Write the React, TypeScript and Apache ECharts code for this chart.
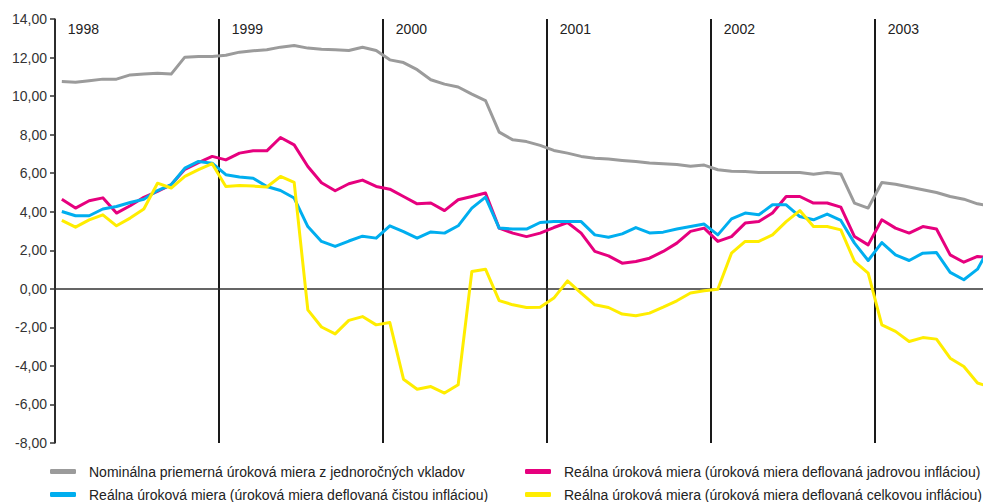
import React, { useEffect, useRef } from "react";
import * as echarts from "echarts";

const years = ["1998", "1999", "2000", "2001", "2002", "2003"];
const monthsInLastYear = 9;
const categories: string[] = [];
years.forEach((y, yi) => {
  const n = yi === years.length - 1 ? monthsInLastYear : 12;
  for (let m = 1; m <= n; m++) categories.push(`${y}-${String(m).padStart(2, "0")}`);
});

const yTicks = { min: -8, max: 14, step: 2 };

const nameNominal = "Nominálna priemerná úroková miera z jednoročných vkladov";
const nameCore = "Reálna úroková miera (úroková miera deflovaná jadrovou infláciou)";
const nameNet = "Reálna úroková miera (úroková miera deflovaná čistou infláciou)";
const nameHeadline = "Reálna úroková miera (úroková miera deflovaná celkovou infláciou)";

const nominal = [
  10.76, 10.72, 10.8, 10.88, 10.88, 11.1, 11.14, 11.18, 11.14, 12.02, 12.05, 12.05,
  12.12, 12.28, 12.35, 12.4, 12.54, 12.62, 12.49, 12.43, 12.4, 12.37, 12.53, 12.37,
  11.88, 11.74, 11.37, 10.85, 10.62, 10.47, 10.1, 9.77, 8.13, 7.73, 7.64, 7.44,
  7.18, 7.04, 6.87, 6.78, 6.73, 6.66, 6.6, 6.53, 6.49, 6.45, 6.36, 6.42,
  6.18, 6.1, 6.09, 6.04, 6.04, 6.04, 6.04, 5.95, 6.04, 5.96, 4.45, 4.19,
  5.52, 5.43, 5.28, 5.14, 5.0, 4.79, 4.65, 4.41, 4.28,
];

const realCore = [
  4.65, 4.19, 4.57, 4.72, 3.93, 4.31, 4.75, 5.05, 5.4, 6.2, 6.55, 6.87,
  6.69, 7.04, 7.16, 7.16, 7.85, 7.47, 6.35, 5.5, 5.09, 5.45, 5.64, 5.31,
  5.17, 4.79, 4.41, 4.45, 4.06, 4.62, 4.79, 4.97, 3.15, 2.89, 2.71, 2.89,
  3.18, 3.44, 2.89, 1.94, 1.71, 1.33, 1.42, 1.59, 1.94, 2.37, 2.98, 3.15,
  2.46, 2.71, 3.41, 3.49, 3.93, 4.79, 4.79, 4.45, 4.45, 4.24, 2.71, 2.28,
  3.58, 3.15, 2.89, 3.23, 3.1, 1.76, 1.38, 1.68, 1.6,
];

const realNet = [
  4.01, 3.79, 3.79, 4.14, 4.27, 4.48, 4.65, 5.1, 5.4, 6.26, 6.61, 6.52,
  5.92, 5.8, 5.74, 5.31, 5.1, 4.71, 3.23, 2.46, 2.2, 2.48, 2.73, 2.63,
  3.27, 2.97, 2.63, 2.95, 2.89, 3.27, 4.19, 4.76, 3.15, 3.1, 3.1, 3.44,
  3.49, 3.49, 3.49, 2.8, 2.68, 2.85, 3.18, 2.9, 2.94, 3.1, 3.23, 3.36,
  2.8, 3.63, 3.93, 3.84, 4.36, 4.36, 3.75, 3.58, 3.88, 3.55, 2.37, 1.47,
  2.4, 1.76, 1.47, 1.85, 1.88, 0.85, 0.47, 1.02, 2.3,
];

const realHeadline = [
  3.55, 3.2, 3.58, 3.84, 3.27, 3.67, 4.14, 5.48, 5.23, 5.83, 6.18, 6.49,
  5.31, 5.36, 5.33, 5.28, 5.83, 5.52, -1.09, -1.98, -2.34, -1.64, -1.44, -1.87,
  -1.75, -4.69, -5.21, -5.07, -5.41, -4.98, 0.9, 1.02, -0.61, -0.83, -0.97, -0.95,
  -0.48, 0.41, -0.22, -0.83, -0.97, -1.31, -1.4, -1.26, -0.95, -0.62, -0.22, -0.1,
  -0.02, 1.85, 2.46, 2.46, 2.8, 3.49, 4.06, 3.23, 3.23, 3.06, 1.42, 0.81,
  -1.87, -2.21, -2.73, -2.53, -2.61, -3.6, -4.03, -4.89, -5.1,
];

const colors = {
  nominal: "#9b9b9b",
  core: "#e6007e",
  net: "#00aeef",
  headline: "#ffed00",
};

export default function App() {
  const ref = useRef<HTMLDivElement>(null);
  useEffect(() => {
    const chart = echarts.init(ref.current!, undefined, { renderer: "svg" });
    const font = "'Liberation Sans', Arial, Helvetica, sans-serif";
    const line = (name: string, data: number[], color: string) => ({
      name,
      type: "line",
      data,
      color,
      symbol: "none",
      xAxisIndex: 0,
      lineStyle: { color, width: 3, join: "round" },
      z: 3,
    });
    const legendBase = {
      top: 464,
      height: 40,
      width: 470,
      orient: "vertical",
      itemWidth: 26,
      itemHeight: 5,
      itemGap: 8,
      padding: 0,
      icon: "roundRect",
      selectedMode: false,
      textStyle: { fontSize: 14, color: "#222", padding: [0, 0, 0, 8], lineHeight: 15, fontFamily: font },
    };
    chart.setOption({
      animation: false,
      backgroundColor: "#ffffff",
      textStyle: { fontFamily: font },
      grid: { left: 55, top: 19, right: 12, bottom: 59, containLabel: false },
      xAxis: [
        {
          type: "category",
          data: categories,
          boundaryGap: true,
          axisLine: { onZero: true, lineStyle: { color: "#333", width: 1.5 } },
          axisTick: { show: false },
          axisLabel: { show: false },
          splitLine: {
            show: true,
            interval: (i: number) => i % 12 === 0,
            lineStyle: { color: "#1a1a1a", width: 2 },
          },
        },
        {
          type: "category",
          data: categories,
          position: "top",
          boundaryGap: true,
          axisLine: { show: false },
          axisTick: { show: false },
          splitLine: { show: false },
          axisLabel: {
            inside: true,
            interval: (i: number) => i % 12 === 0,
            formatter: (v: string) => v.slice(0, 4),
            align: "left",
            padding: [0, 0, 0, 6],
            margin: 3,
            fontSize: 14,
            color: "#222",
            fontFamily: font,
          },
        },
      ],
      yAxis: {
        type: "value",
        min: yTicks.min,
        max: yTicks.max,
        interval: yTicks.step,
        axisLine: { show: true, lineStyle: { color: "#333", width: 1.5 } },
        axisTick: { show: true, length: 5, lineStyle: { color: "#333", width: 1.5 } },
        splitLine: { show: false },
        axisLabel: {
          fontSize: 14,
          color: "#333",
          margin: 8,
          fontFamily: font,
          formatter: (v: number) => v.toFixed(2).replace(".", ","),
        },
      },
      legend: [
        { ...legendBase, data: [nameNominal, nameNet], left: 50 },
        { ...legendBase, data: [nameCore, nameHeadline], left: 525 },
      ],
      series: [
        line(nameNominal, nominal, colors.nominal),
        line(nameCore, realCore, colors.core),
        line(nameNet, realNet, colors.net),
        line(nameHeadline, realHeadline, colors.headline),
      ],
    });
    return () => chart.dispose();
  }, []);
  return (
    <div
      style={{
        position: "fixed",
        left: 0,
        top: 0,
        width: 983,
        height: 502,
        overflow: "hidden",
        background: "#fff",
      }}
    >
      <div ref={ref} style={{ width: 1010, height: 502 }} />
    </div>
  );
}
